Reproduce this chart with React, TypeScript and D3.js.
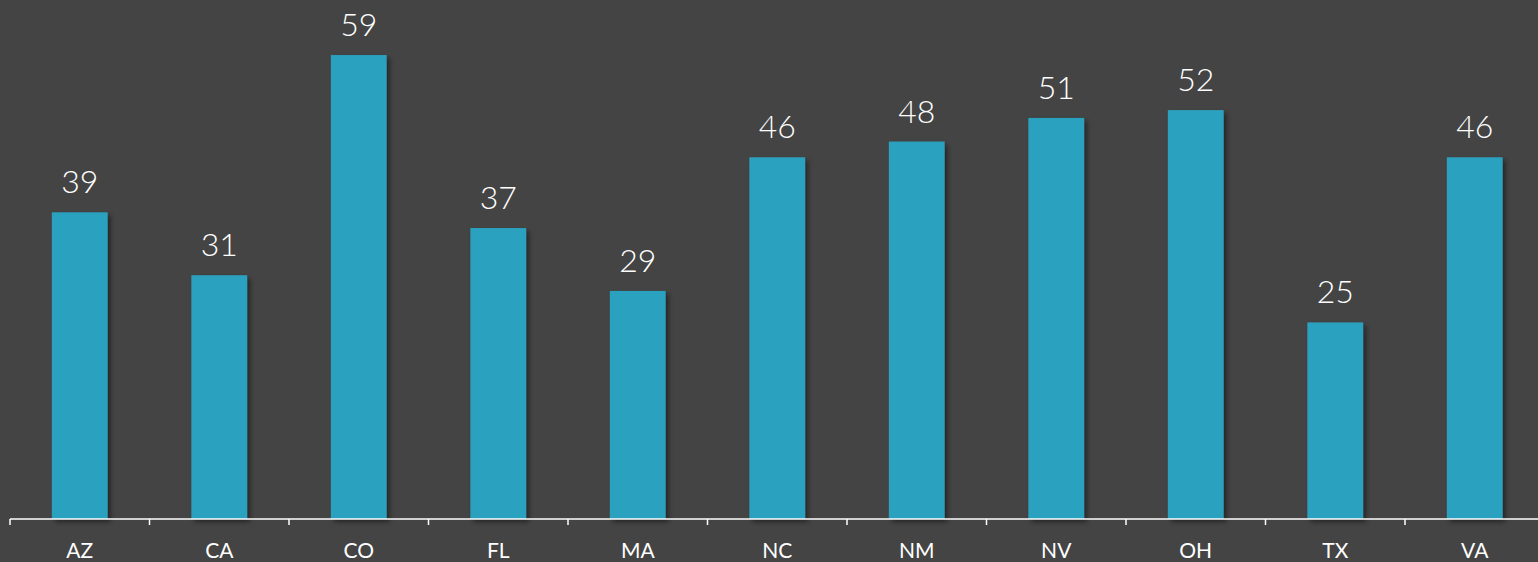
import * as d3 from 'd3'

const states = ['AZ', 'CA', 'CO', 'FL', 'MA', 'NC', 'NM', 'NV', 'OH', 'TX', 'VA']
const counts = [39, 31, 59, 37, 29, 46, 48, 51, 52, 25, 46]

const W = 1538
const H = 562
const baseline = 519

export default function App() {
  const x = d3.scaleBand<string>().domain(states).range([10, 1544.5]).paddingInner(0).paddingOuter(0)
  const y = d3.scaleLinear().domain([0, 66]).range([baseline, 0])
  const bw = x.bandwidth() * 0.4

  return (
    <svg width={W} height={H} style={{ position: 'fixed', left: 0, top: 0, display: 'block' }}>
      <defs>
        <filter id='shadow' x='-20%' y='-5%' width='150%' height='115%'>
          <feDropShadow dx='3' dy='3' stdDeviation='2.5' floodColor='#000' floodOpacity='0.45' />
        </filter>
      </defs>
      <rect width={W} height={H} fill='#444444' />

      {states.map((s, i) => {
        const cx = (x(s) ?? 0) + x.bandwidth() / 2
        return (
          <g key={s}>
            <rect
              x={cx - bw / 2}
              y={y(counts[i])}
              width={bw}
              height={baseline - y(counts[i])}
              fill='#2ca1bf'
              filter='url(#shadow)'
            />
            <text
              x={cx}
              y={y(counts[i]) - 19}
              textAnchor='middle'
              fill='#fff'
              fontFamily='Lato, sans-serif'
              fontWeight={300}
              fontSize={32}
            >
              {counts[i]}
            </text>
            <text
              x={cx}
              y={558}
              textAnchor='middle'
              fill='#fff'
              fontFamily='Lato, sans-serif'
              fontSize={21}
            >
              {s}
            </text>
          </g>
        )
      })}

      <line x1={10} x2={W} y1={baseline} y2={baseline} stroke='#fff' strokeWidth={1.5} />
      {states.map(s => (
        <line
          key={'t' + s}
          x1={(x(s) ?? 0)}
          x2={(x(s) ?? 0)}
          y1={baseline}
          y2={baseline + 6}
          stroke='#fff'
          strokeWidth={1.5}
        />
      ))}
    </svg>
  )
}
